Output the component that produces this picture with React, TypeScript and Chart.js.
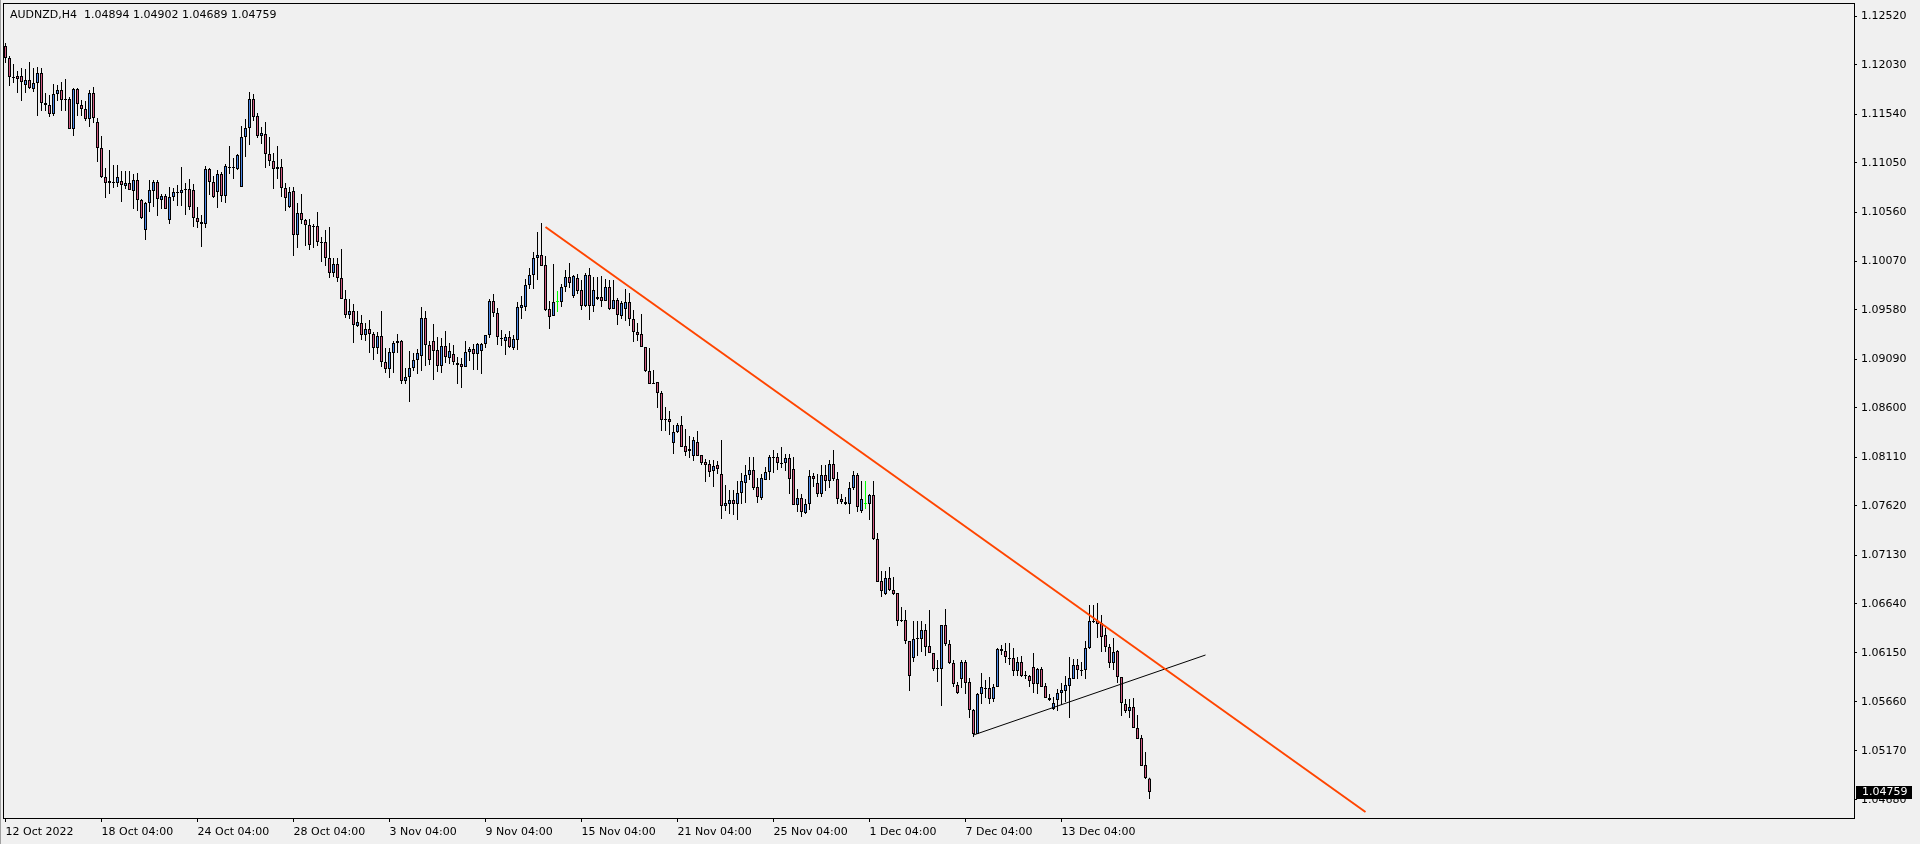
import React, { useEffect, useRef } from "react";
import { Chart, registerables } from "chart.js";

Chart.register(...registerables);

const chartTitle = "AUDNZD,H4  1.04894 1.04902 1.04689 1.04759";
const lastPrice = 1.04759;

const timeTickBars = [0, 24, 48, 72, 96, 120, 144, 168, 192, 216, 240, 264];
const timeTickLabels = [
  "12 Oct 2022", "18 Oct 04:00", "24 Oct 04:00", "28 Oct 04:00", "3 Nov 04:00", "9 Nov 04:00",
  "15 Nov 04:00", "21 Nov 04:00", "25 Nov 04:00", "1 Dec 04:00", "7 Dec 04:00", "13 Dec 04:00",
];
const priceTicks = [
  1.1252, 1.1203, 1.1154, 1.1105, 1.1056, 1.1007, 1.0958, 1.0909, 1.086,
  1.0811, 1.0762, 1.0713, 1.0664, 1.0615, 1.0566, 1.0517, 1.0468,
];

const openPrices = [
  1.1222, 1.1210, 1.1191, 1.1192, 1.1192, 1.1183, 1.1188, 1.1179, 1.1185, 1.1195,
  1.1165, 1.1163, 1.1154, 1.1174, 1.1178, 1.1169, 1.1169, 1.1139, 1.1179, 1.1163,
  1.1159, 1.1149, 1.1175, 1.1146, 1.1120, 1.1091, 1.1085, 1.1086, 1.1085, 1.1087,
  1.1082, 1.1085, 1.1077, 1.1088, 1.1068, 1.1038, 1.1065, 1.1077, 1.1086, 1.1068,
  1.1072, 1.1048, 1.1071, 1.1076, 1.1075, 1.1079, 1.1079, 1.1078, 1.1050, 1.1046,
  1.1044, 1.1099, 1.1086, 1.1076, 1.1094, 1.1072, 1.1101, 1.1100, 1.1099, 1.1081,
  1.1131, 1.1140, 1.1169, 1.1152, 1.1132, 1.1134, 1.1114, 1.1107, 1.1099, 1.1101,
  1.1080, 1.1061, 1.1077, 1.1033, 1.1055, 1.1048, 1.1043, 1.1042, 1.1042, 1.1026,
  1.1026, 1.1010, 1.0995, 1.1004, 1.0990, 1.0969, 1.0953, 1.0957, 1.0942, 1.0945,
  1.0933, 1.0939, 1.0934, 1.0920, 1.0932, 1.0906, 1.0899, 1.0915, 1.0925, 1.0927,
  1.0887, 1.0891, 1.0900, 1.0908, 1.0912, 1.0950, 1.0923, 1.0927, 1.0918, 1.0902,
  1.0922, 1.0910, 1.0914, 1.0905, 1.0904, 1.0901, 1.0916, 1.0919, 1.0914, 1.0917,
  1.0924, 1.0933, 1.0967, 1.0955, 1.0930, 1.0927, 1.0931, 1.0920, 1.0928, 1.0960,
  1.0961, 1.0983, 1.0993, 1.1010, 1.1013, 1.1003, 1.0959, 1.0952, 1.0966, 1.0966,
  1.0981, 1.0991, 1.0972, 1.0990, 1.0978, 1.0962, 1.0993, 1.0962, 1.0971, 1.0971,
  1.0967, 1.0981, 1.0959, 1.0968, 1.0952, 1.0959, 1.0966, 1.0949, 1.0936, 1.0934,
  1.0921, 1.0897, 1.0885, 1.0886, 1.0875, 1.0848, 1.0849, 1.0825, 1.0836, 1.0843,
  1.0822, 1.0817, 1.0812, 1.0826, 1.0813, 1.0806, 1.0804, 1.0797, 1.0803, 1.0794,
  1.0762, 1.0764, 1.0768, 1.0764, 1.0775, 1.0785, 1.0793, 1.0798, 1.0781, 1.0770,
  1.0788, 1.0796, 1.0811, 1.0811, 1.0804, 1.0805, 1.0810, 1.0799, 1.0763, 1.0770,
  1.0755, 1.0764, 1.0792, 1.0785, 1.0774, 1.0793, 1.0787, 1.0804, 1.0789, 1.0769,
  1.0766, 1.0764, 1.0780, 1.0793, 1.0757, 1.0764, 1.0764, 1.0773, 1.0729, 1.0687,
  1.0674, 1.0690, 1.0678, 1.0675, 1.0647, 1.0648, 1.0627, 1.0610, 1.0629, 1.0629,
  1.0638, 1.0622, 1.0615, 1.0599, 1.0599, 1.0643, 1.0624, 1.0605, 1.0583, 1.0589,
  1.0606, 1.0586, 1.0558, 1.0534, 1.0574, 1.0580, 1.0580, 1.0569, 1.0581, 1.0619,
  1.0617, 1.0610, 1.0610, 1.0597, 1.0606, 1.0593, 1.0592, 1.0601, 1.0584, 1.0599,
  1.0582, 1.0570, 1.0559, 1.0568, 1.0575, 1.0577, 1.0582, 1.0589, 1.0603, 1.0598,
  1.0598, 1.0620, 1.0647, 1.0647, 1.0645, 1.0633, 1.0621, 1.0605, 1.0617, 1.0591,
  1.0564, 1.0557, 1.0561, 1.0540, 1.0530, 1.0503, 1.04894,
];

const highPrices = [
  1.1225, 1.1212, 1.1204, 1.1197, 1.1200, 1.1199, 1.1206, 1.1200, 1.1201, 1.1200,
  1.1175, 1.1173, 1.1184, 1.1183, 1.1186, 1.1189, 1.1171, 1.1180, 1.1180, 1.1168,
  1.1167, 1.1178, 1.1181, 1.1150, 1.1132, 1.1100, 1.1118, 1.1103, 1.1103, 1.1097,
  1.1097, 1.1097, 1.1094, 1.1095, 1.1069, 1.1066, 1.1088, 1.1088, 1.1088, 1.1074,
  1.1074, 1.1081, 1.1080, 1.1083, 1.1101, 1.1085, 1.1089, 1.1084, 1.1061, 1.1053,
  1.1102, 1.1100, 1.1092, 1.1098, 1.1096, 1.1104, 1.1122, 1.1110, 1.1114, 1.1142,
  1.1149, 1.1176, 1.1174, 1.1155, 1.1141, 1.1146, 1.1131, 1.1115, 1.1122, 1.1109,
  1.1085, 1.1081, 1.1081, 1.1065, 1.1074, 1.1049, 1.1049, 1.1044, 1.1056, 1.1031,
  1.1038, 1.1041, 1.1010, 1.1010, 1.1019, 1.0978, 1.0969, 1.0964, 1.0957, 1.0953,
  1.0945, 1.0948, 1.0936, 1.0936, 1.0957, 1.0920, 1.0920, 1.0927, 1.0934, 1.0928,
  1.0900, 1.0917, 1.0915, 1.0919, 1.0961, 1.0957, 1.0927, 1.0944, 1.0931, 1.0930,
  1.0937, 1.0925, 1.0923, 1.0911, 1.0910, 1.0927, 1.0921, 1.0924, 1.0925, 1.0925,
  1.0933, 1.0969, 1.0974, 1.0960, 1.0938, 1.0934, 1.0937, 1.0933, 1.0966, 1.0972,
  1.0989, 1.1000, 1.1016, 1.1036, 1.1045, 1.1012, 1.0967, 1.1004, 1.0977, 1.0984,
  1.0998, 1.1005, 1.0993, 1.0994, 1.0988, 1.0995, 1.1000, 1.0991, 1.0991, 1.0992,
  1.0989, 1.0988, 1.0988, 1.0970, 1.0967, 1.0979, 1.0975, 1.0958, 1.0945, 1.0954,
  1.0921, 1.0920, 1.0898, 1.0886, 1.0877, 1.0861, 1.0857, 1.0843, 1.0845, 1.0852,
  1.0839, 1.0832, 1.0831, 1.0837, 1.0813, 1.0809, 1.0808, 1.0808, 1.0807, 1.0828,
  1.0783, 1.0778, 1.0778, 1.0787, 1.0795, 1.0803, 1.0811, 1.0811, 1.0790, 1.0794,
  1.0801, 1.0813, 1.0818, 1.0815, 1.0821, 1.0814, 1.0814, 1.0811, 1.0779, 1.0774,
  1.0769, 1.0798, 1.0795, 1.0794, 1.0803, 1.0803, 1.0808, 1.0818, 1.0796, 1.0774,
  1.0771, 1.0786, 1.0797, 1.0795, 1.0787, 1.0787, 1.0774, 1.0787, 1.0735, 1.0697,
  1.0697, 1.0701, 1.0691, 1.0675, 1.0661, 1.0658, 1.0627, 1.0647, 1.0647, 1.0647,
  1.0644, 1.0658, 1.0615, 1.0608, 1.0643, 1.0659, 1.0628, 1.0608, 1.0586, 1.0608,
  1.0608, 1.0590, 1.0559, 1.0575, 1.0595, 1.0588, 1.0591, 1.0584, 1.0620, 1.0623,
  1.0625, 1.0625, 1.0620, 1.0611, 1.0612, 1.0597, 1.0593, 1.0615, 1.0600, 1.0601,
  1.0585, 1.0574, 1.0571, 1.0579, 1.0585, 1.0592, 1.0611, 1.0609, 1.0609, 1.0606,
  1.0627, 1.0663, 1.0663, 1.0665, 1.0653, 1.0640, 1.0624, 1.0630, 1.0618, 1.0591,
  1.0569, 1.0569, 1.0570, 1.0553, 1.0533, 1.0516, 1.04902,
];

const lowPrices = [
  1.1205, 1.1182, 1.1185, 1.1175, 1.1167, 1.1175, 1.1179, 1.1176, 1.1152, 1.1157,
  1.1157, 1.1151, 1.1152, 1.1167, 1.1157, 1.1157, 1.1139, 1.1132, 1.1152, 1.1152,
  1.1147, 1.1141, 1.1145, 1.1106, 1.1090, 1.1070, 1.1074, 1.1080, 1.1081, 1.1066,
  1.1079, 1.1078, 1.1059, 1.1057, 1.1049, 1.1028, 1.1056, 1.1061, 1.1052, 1.1059,
  1.1059, 1.1044, 1.1067, 1.1062, 1.1062, 1.1053, 1.1058, 1.1041, 1.1040, 1.1021,
  1.1040, 1.1073, 1.1070, 1.1060, 1.1066, 1.1065, 1.1094, 1.1089, 1.1098, 1.1081,
  1.1111, 1.1123, 1.1147, 1.1130, 1.1124, 1.1100, 1.1102, 1.1079, 1.1089, 1.1071,
  1.1057, 1.1060, 1.1012, 1.1020, 1.1044, 1.1022, 1.1018, 1.1020, 1.1022, 1.1006,
  1.1002, 1.0990, 1.0991, 1.0986, 1.0969, 1.0950, 1.0949, 1.0925, 1.0941, 1.0928,
  1.0927, 1.0915, 1.0908, 1.0914, 1.0901, 1.0895, 1.0890, 1.0895, 1.0915, 1.0884,
  1.0884, 1.0866, 1.0897, 1.0894, 1.0897, 1.0902, 1.0903, 1.0888, 1.0896, 1.0895,
  1.0905, 1.0904, 1.0903, 1.0884, 1.0880, 1.0901, 1.0907, 1.0898, 1.0898, 1.0894,
  1.0920, 1.0930, 1.0951, 1.0923, 1.0922, 1.0913, 1.0920, 1.0918, 1.0918, 1.0949,
  1.0957, 1.0979, 1.0979, 1.0988, 1.1002, 1.0957, 1.0939, 1.0952, 1.0956, 1.0961,
  1.0976, 1.0980, 1.0970, 1.0974, 1.0958, 1.0961, 1.0948, 1.0956, 1.0968, 1.0961,
  1.0967, 1.0958, 1.0959, 1.0943, 1.0949, 1.0947, 1.0942, 1.0926, 1.0927, 1.0921,
  1.0896, 1.0884, 1.0884, 1.0860, 1.0837, 1.0837, 1.0833, 1.0814, 1.0835, 1.0821,
  1.0812, 1.0810, 1.0807, 1.0812, 1.0803, 1.0786, 1.0791, 1.0781, 1.0794, 1.0749,
  1.0757, 1.0754, 1.0753, 1.0748, 1.0764, 1.0765, 1.0788, 1.0778, 1.0765, 1.0768,
  1.0788, 1.0788, 1.0795, 1.0798, 1.0800, 1.0797, 1.0774, 1.0763, 1.0756, 1.0751,
  1.0754, 1.0758, 1.0781, 1.0771, 1.0771, 1.0777, 1.0780, 1.0787, 1.0764, 1.0764,
  1.0763, 1.0754, 1.0778, 1.0756, 1.0755, 1.0759, 1.0748, 1.0728, 1.0686, 1.0671,
  1.0673, 1.0677, 1.0673, 1.0642, 1.0646, 1.0624, 1.0577, 1.0606, 1.0612, 1.0616,
  1.0612, 1.0615, 1.0597, 1.0586, 1.0562, 1.0622, 1.0604, 1.0581, 1.0574, 1.0580,
  1.0574, 1.0550, 1.0531, 1.0534, 1.0564, 1.0570, 1.0564, 1.0566, 1.0581, 1.0613,
  1.0605, 1.0603, 1.0592, 1.0592, 1.0591, 1.0589, 1.0581, 1.0575, 1.0574, 1.0581,
  1.0570, 1.0567, 1.0558, 1.0557, 1.0563, 1.0566, 1.0550, 1.0589, 1.0589, 1.0592,
  1.0589, 1.0619, 1.0645, 1.0630, 1.0616, 1.0616, 1.0600, 1.0598, 1.0585, 1.0552,
  1.0555, 1.0550, 1.0540, 1.0529, 1.0502, 1.0489, 1.04689,
];

const closePrices = [
  1.1210, 1.1191, 1.1190, 1.1189, 1.1186, 1.1188, 1.1180, 1.1185, 1.1195, 1.1165,
  1.1163, 1.1154, 1.1174, 1.1178, 1.1168, 1.1168, 1.1139, 1.1179, 1.1164, 1.1159,
  1.1149, 1.1175, 1.1150, 1.1120, 1.1091, 1.1085, 1.1087, 1.1085, 1.1091, 1.1083,
  1.1085, 1.1078, 1.1088, 1.1068, 1.1050, 1.1065, 1.1078, 1.1086, 1.1069, 1.1072,
  1.1059, 1.1071, 1.1076, 1.1075, 1.1078, 1.1078, 1.1061, 1.1050, 1.1046, 1.1044,
  1.1099, 1.1086, 1.1071, 1.1094, 1.1072, 1.1102, 1.1100, 1.1101, 1.1113, 1.1131,
  1.1140, 1.1169, 1.1151, 1.1132, 1.1135, 1.1114, 1.1107, 1.1099, 1.1101, 1.1080,
  1.1070, 1.1076, 1.1033, 1.1055, 1.1048, 1.1043, 1.1023, 1.1041, 1.1026, 1.1025,
  1.1010, 1.0995, 1.1004, 1.0990, 1.0969, 1.0953, 1.0957, 1.0943, 1.0946, 1.0933,
  1.0939, 1.0934, 1.0920, 1.0932, 1.0906, 1.0899, 1.0916, 1.0925, 1.0927, 1.0887,
  1.0891, 1.0900, 1.0908, 1.0915, 1.0950, 1.0923, 1.0908, 1.0917, 1.0902, 1.0922,
  1.0911, 1.0917, 1.0906, 1.0903, 1.0901, 1.0916, 1.0919, 1.0914, 1.0924, 1.0924,
  1.0933, 1.0967, 1.0955, 1.0931, 1.0929, 1.0931, 1.0921, 1.0929, 1.0961, 1.0963,
  1.0983, 1.0993, 1.1010, 1.1013, 1.1002, 1.0958, 1.0951, 1.0966, 1.0966, 1.0981,
  1.0991, 1.0985, 1.0992, 1.0977, 1.0962, 1.0993, 1.0962, 1.0978, 1.0969, 1.0967,
  1.0981, 1.0959, 1.0968, 1.0953, 1.0965, 1.0966, 1.0949, 1.0936, 1.0933, 1.0921,
  1.0897, 1.0884, 1.0884, 1.0875, 1.0848, 1.0849, 1.0846, 1.0836, 1.0843, 1.0821,
  1.0816, 1.0819, 1.0828, 1.0812, 1.0805, 1.0803, 1.0796, 1.0802, 1.0799, 1.0762,
  1.0765, 1.0768, 1.0764, 1.0775, 1.0787, 1.0793, 1.0798, 1.0780, 1.0771, 1.0790,
  1.0796, 1.0811, 1.0810, 1.0805, 1.0805, 1.0810, 1.0789, 1.0763, 1.0770, 1.0756,
  1.0764, 1.0792, 1.0789, 1.0774, 1.0793, 1.0787, 1.0804, 1.0789, 1.0769, 1.0766,
  1.0764, 1.0780, 1.0793, 1.0761, 1.0769, 1.0764, 1.0773, 1.0729, 1.0686, 1.0677,
  1.0690, 1.0678, 1.0674, 1.0647, 1.0648, 1.0627, 1.0592, 1.0629, 1.0630, 1.0638,
  1.0621, 1.0615, 1.0599, 1.0600, 1.0643, 1.0624, 1.0605, 1.0584, 1.0575, 1.0606,
  1.0585, 1.0558, 1.0534, 1.0574, 1.0581, 1.0579, 1.0569, 1.0581, 1.0619, 1.0617,
  1.0611, 1.0609, 1.0597, 1.0606, 1.0592, 1.0592, 1.0587, 1.0584, 1.0599, 1.0581,
  1.0570, 1.0568, 1.0565, 1.0575, 1.0578, 1.0583, 1.0590, 1.0603, 1.0598, 1.0597,
  1.0620, 1.0647, 1.0646, 1.0644, 1.0631, 1.0621, 1.0605, 1.0616, 1.0591, 1.0565,
  1.0557, 1.0561, 1.0540, 1.0529, 1.0502, 1.0490, 1.04759,
];

// trend line anchors (bar index, price)
const orangeTrend = [
  { x: 135, y: 1.1041 },
  { x: 340, y: 1.0456 },
];
const blackTrend = [
  { x: 242, y: 1.0533 },
  { x: 300, y: 1.0613 },
];

const BG = "#f0f0f0";
const BULL = "#4a86e8";
const BEAR = "#d05a82";
const DOJI = "#00ff00";
const FONT = "'DejaVu Sans', 'Liberation Sans', sans-serif";

const mtPlugin = {
  id: "mtDecor",
  afterDraw(chart: any) {
    const { ctx, chartArea: a, scales } = chart;
    ctx.save();
    // plot frame
    ctx.strokeStyle = "#000000";
    ctx.lineWidth = 1;
    ctx.strokeRect(a.left - 0.5, a.top + 0.5, a.right - a.left + 1, a.bottom - a.top);
    // left window edge
    ctx.fillStyle = "#a0a0a0";
    ctx.fillRect(0, 0, 1, chart.height);
    // title
    ctx.fillStyle = "#000000";
    ctx.font = `11px ${FONT}`;
    ctx.textBaseline = "middle";
    ctx.textAlign = "left";
    ctx.fillText(chartTitle, a.left + 6, a.top + 12);
    // last price marker
    const py = Math.round(scales.y.getPixelForValue(lastPrice));
    ctx.fillStyle = "#000000";
    ctx.fillRect(a.right + 2, py - 6, 56, 13);
    ctx.fillStyle = "#ffffff";
    ctx.fillText(lastPrice.toFixed(5), a.right + 8, py + 0.5);
    ctx.restore();
  },
};

export default function App() {
  const canvasRef = useRef<HTMLCanvasElement | null>(null);

  useEffect(() => {
    const canvas = canvasRef.current;
    if (!canvas) return;
    const idx = openPrices.map((_, i) => i);
    const isDoji = idx.map((i) => openPrices[i] === closePrices[i]);
    const bodyFill = idx.map((i) => (isDoji[i] ? DOJI : closePrices[i] > openPrices[i] ? BULL : BEAR));
    const bodyBorder = idx.map((i) => (isDoji[i] ? DOJI : "#000000"));
    const wickColor = idx.map((i) => (isDoji[i] ? DOJI : "#000000"));

    const chart = new Chart(canvas, {
      type: "bar",
      data: {
        datasets: [
          {
            type: "line",
            data: orangeTrend,
            borderColor: "#ff4500",
            borderWidth: 2,
            pointRadius: 0,
            fill: false,
            order: 0,
          } as any,
          {
            type: "line",
            data: blackTrend,
            borderColor: "#000000",
            borderWidth: 1,
            pointRadius: 0,
            fill: false,
            order: 0,
          } as any,
          {
            type: "bar",
            data: idx.map((i) => ({ x: i, y: [openPrices[i], closePrices[i]] })),
            backgroundColor: bodyFill,
            borderColor: bodyBorder,
            borderWidth: 1,
            borderSkipped: false,
            barThickness: 3,
            grouped: false,
            minBarLength: 1,
            inflateAmount: 0,
            order: 1,
          } as any,
          {
            type: "bar",
            data: idx.map((i) => ({ x: i, y: [lowPrices[i], highPrices[i]] })),
            backgroundColor: wickColor,
            borderWidth: 0,
            barThickness: 1,
            grouped: false,
            inflateAmount: 0,
            order: 2,
          } as any,
        ],
      },
      options: {
        responsive: true,
        maintainAspectRatio: false,
        animation: false,
        devicePixelRatio: 1,
        events: [],
        layout: { padding: { left: 4, top: 3, right: 0, bottom: 0 } },
        plugins: {
          legend: { display: false },
          tooltip: { enabled: false },
          title: { display: false },
        },
        scales: {
          x: {
            type: "linear",
            min: -0.375,
            max: 462.125,
            offset: false,
            border: { display: false },
            grid: {
              display: true,
              drawOnChartArea: false,
              drawTicks: true,
              tickLength: 4,
              tickColor: "#000000",
              offset: false,
            },
            ticks: {
              autoSkip: false,
              maxRotation: 0,
              minRotation: 0,
              align: "start",
              padding: 4,
              color: "#000000",
              font: { family: FONT, size: 11 },
              callback: (value: any) => {
                const k = timeTickBars.indexOf(Number(value));
                return k >= 0 ? timeTickLabels[k] : "";
              },
            },
            afterBuildTicks: (scale: any) => {
              scale.ticks = timeTickBars.map((v) => ({ value: v }));
            },
            afterFit: (scale: any) => {
              scale.height = 26;
              scale.paddingLeft = 0;
              scale.paddingRight = 0;
            },
          },
          y: {
            type: "linear",
            position: "right",
            min: 1.045,
            max: 1.1265,
            beginAtZero: false,
            border: { display: false },
            grid: {
              display: true,
              drawOnChartArea: false,
              drawTicks: true,
              tickLength: 3,
              tickColor: "#000000",
            },
            ticks: {
              autoSkip: false,
              padding: 4,
              color: "#000000",
              font: { family: FONT, size: 11 },
              callback: (value: any) => Number(value).toFixed(5),
            },
            afterBuildTicks: (scale: any) => {
              scale.ticks = priceTicks.map((v) => ({ value: v }));
            },
            afterFit: (scale: any) => {
              scale.width = 66;
              scale.paddingTop = 0;
              scale.paddingBottom = 0;
            },
          },
        },
      } as any,
      plugins: [mtPlugin],
    });

    return () => chart.destroy();
  }, []);

  return (
    <div
      style={{
        position: "absolute",
        left: 0,
        top: 0,
        width: 1920,
        height: 844,
        background: BG,
      }}
    >
      <canvas ref={canvasRef} />
    </div>
  );
}
